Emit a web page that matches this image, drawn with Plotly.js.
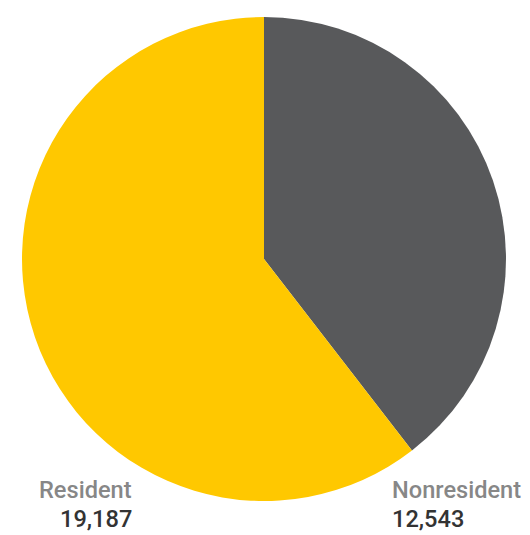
<!DOCTYPE html>
<html>
<head>
<script src="https://cdn.plot.ly/plotly-3.0.1.min.js"></script>
<style>html,body{margin:0;padding:0;background:#fff;}#chart{width:530px;height:535px;}</style>
</head>
<body>
<div id="chart"></div>
<script>
const categories = ["Nonresident", "Resident"];
const values = [12543, 19187];
const colors = ["#58595b", "#ffc800"];

const fmt = v => v.toLocaleString("en-US");

const data = [{
  type: "pie",
  labels: categories,
  values: values,
  sort: false,
  direction: "clockwise",
  rotation: 0,
  textinfo: "none",
  hoverinfo: "label+value",
  marker: {colors: colors, line: {width: 0}},
  domain: {x: [22/530, 506/530], y: [1 - 501/535, 1 - 17/535]},
  showlegend: false
}];

const fontName = {family: "Roboto, sans-serif", size: 23.6, color: "#878787", weight: 500};
const fontVal = {family: "Roboto, sans-serif", size: 23.6, color: "#333333", weight: 500};

const annotations = [
  {text: categories[1], x: 133/530, y: 1 - 490/535, xanchor: "right", yanchor: "middle", font: fontName},
  {text: fmt(values[1]), x: 133/530, y: 1 - 519/535, xanchor: "right", yanchor: "middle", font: fontVal},
  {text: categories[0], x: 391/530, y: 1 - 490/535, xanchor: "left", yanchor: "middle", font: fontName},
  {text: fmt(values[0]), x: 391/530, y: 1 - 519/535, xanchor: "left", yanchor: "middle", font: fontVal}
].map(a => Object.assign({xref: "paper", yref: "paper", showarrow: false, borderpad: 0}, a));

const layout = {
  width: 530, height: 535,
  margin: {l: 0, r: 0, t: 0, b: 0},
  paper_bgcolor: "#ffffff",
  annotations: annotations
};

Plotly.newPlot("chart", data, layout, {displayModeBar: false, staticPlot: true});
</script>
</body>
</html>
